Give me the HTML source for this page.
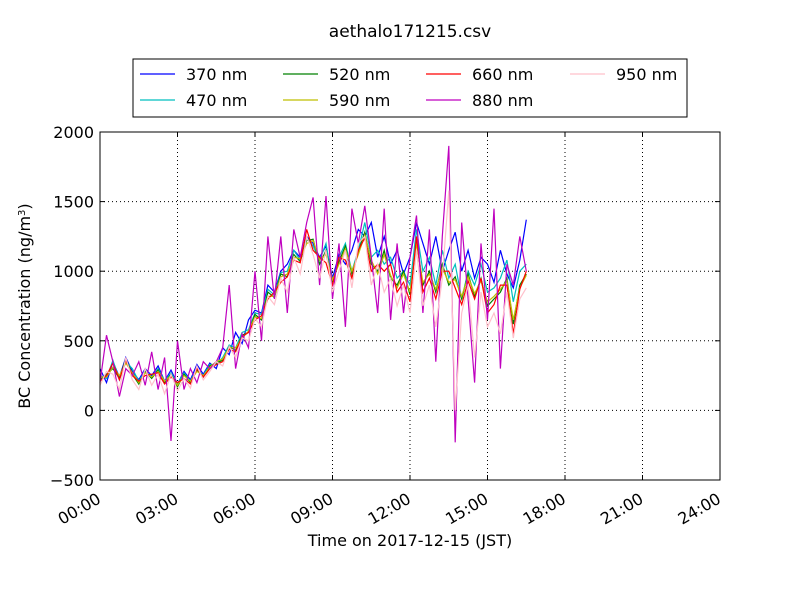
<!DOCTYPE html>
<html><head><meta charset="utf-8"><style>
body{margin:0;background:#fff;}
svg{display:block;font-family:"DejaVu Sans","Liberation Sans",sans-serif;}
</style></head><body>
<svg id="chart" width="800" height="600">
<rect width="800" height="600" fill="#fff"/>
<text x="410" y="37" font-size="17" text-anchor="middle">aethalo171215.csv</text>
<g id="grid"></g>
<g id="series"></g>
<rect x="100" y="132" width="620" height="348" fill="none" stroke="#000" stroke-width="1"/>
<g id="axes"></g>
<text x="410" y="546" font-size="16" text-anchor="middle">Time on 2017-12-15 (JST)</text>
<text transform="translate(30,306) rotate(-90)" font-size="16" text-anchor="middle">BC Concentration (ng/m<tspan baseline-shift="super" font-size="10">3</tspan>)</text>
<g id="legend">
<rect x="133" y="59" width="554" height="58" fill="#fff" stroke="#000" stroke-width="1"/>
</g>
</svg>
<script>
const seriesNames = ["370 nm","470 nm","520 nm","590 nm","660 nm","880 nm","950 nm"];
const seriesColors = ["#0000ff","#00bfbf","#008000","#bfbf00","#ff0000","#bf00bf","#ffc0cb"];
const timeStepHours = 0.25;
const yTicks = [-500,0,500,1000,1500,2000];
const xTickLabels = ["00:00","03:00","06:00","09:00","12:00","15:00","18:00","21:00","24:00"];
const s370 = [300,200,350,240,380,280,220,300,250, 320,210,290,190,280,220,330,260, 340,300,450,400,560,480,650,720, 700,900,850,1000,1050,1150,1100,1250, 1200,1100,1180,950,1120,1050,1150,1300, 1250,1350,1100,1250,1050,1150,980,1100, 1350,1200,1050,1250,1000,1150,1280,1000, 1150,950,1100,1050,920,1150,980,880, 1080,1370];
const s470 = [250,230,360,220,350,300,210,280,240, 300,210,270,190,270,210,300,250, 330,330,380,470,450,560,580,700, 690,870,830,990,1000,1150,1080,1240, 1180,1080,1200,920,1100,1200,1000,1150, 1350,1100,1150,1050,1100,950,1000,900, 1300,1000,1100,900,1150,950,1050,800, 1000,900,1050,850,880,950,1080,780, 1000,1050];
const s520 = [220,260,300,230,370,260,190,280,230, 290,200,260,170,260,200,290,240, 320,340,360,460,430,540,560,690, 650,850,810,980,960,1120,1070,1220, 1230,1050,1150,920,1070,1180,980,1140, 1280,1050,1000,1150,950,900,1000,830, 1220,900,1000,850,1050,900,960,800, 980,820,950,750,800,850,950,620, 900,980];
const s590 = [240,240,310,250,340,270,200,270,240, 280,210,250,180,250,210,280,250, 310,350,370,450,450,520,570,670, 660,820,820,960,980,1100,1090,1200, 1220,1080,1120,940,1050,1160,1000,1120, 1260,1080,980,1120,970,880,980,850, 1200,920,980,870,1020,920,940,820, 960,840,930,780,820,870,930,650, 880,970];
const s660 = [210,250,340,220,360,250,210,250,260, 270,190,240,200,230,190,300,240, 300,330,350,440,420,530,560,650, 680,800,850,920,960,1080,1060,1300, 1150,1100,1060,900,1100,1080,950,1150, 1240,1000,1050,1000,1050,850,920,780, 1250,850,950,800,1000,1000,880,760, 930,800,950,700,760,900,900,550, 870,1000];
const s880 = [200,540,350,100,300,250,350,180,420, 150,380,-220,500,150,300,200,350, 300,350,450,900,300,550,450,1000, 500,1250,800,1250,700,1300,1100,1350, 1530,900,1540,800,1200,600,1450,1200, 1470,1100,700,1450,650,1200,700,1100, 1400,700,1300,350,1250,1900,-230,1350, 800,200,1200,650,1450,300,1050,900, 1250,1000];
const s950 = [180,280,260,150,380,220,150,300,180, 260,120,260,140,230,160,320,220, 280,350,320,460,380,520,500,660, 600,820,760,950,850,1100,980,1250, 1120,950,1150,850,1000,1150,880,1200, 1250,900,1050,850,950,750,900,700, 1150,750,900,600,950,1580,0,700, 900,380,850,600,700,550,850,520, 800,880];
const allSeries = [s370,s470,s520,s590,s660,s880,s950];

const X0=100,X1=720,Y0=480,Y1=132;
const xScale = h => X0 + (h/24)*(X1-X0);
const yScale = v => Y0 - (v+500)/2500*(Y0-Y1);
const NS="http://www.w3.org/2000/svg";
function mk(tag, attrs, parent){const e=document.createElementNS(NS,tag);for(const k in attrs)e.setAttribute(k,attrs[k]);parent.appendChild(e);return e;}

const grid=document.getElementById('grid'), axes=document.getElementById('axes');
yTicks.forEach((v,i)=>{
  const y=yScale(v);
  if(i>0&&i<yTicks.length-1){const g=mk('line',{x1:X0,x2:X1,y1:y,y2:y,stroke:'#000','stroke-dasharray':'1,3','stroke-width':1},grid);
  
  }
  mk('line',{x1:X0,x2:X0+5,y1:y,y2:y,stroke:'#000'},axes);
  mk('line',{x1:X1,x2:X1-5,y1:y,y2:y,stroke:'#000'},axes);
  const t=mk('text',{x:X0-6,y:y+6,'font-size':16,'text-anchor':'end'},axes);
  t.textContent=(v<0?'\u2212'+(-v):String(v));
  
  
});
xTickLabels.forEach((lab,i)=>{
  const x=xScale(i*3);
  if(i>0&&i<xTickLabels.length-1){const g=mk('line',{x1:x,x2:x,y1:Y1,y2:Y0,stroke:'#000','stroke-dasharray':'1,3'},grid);
  
  }
  mk('line',{x1:x,x2:x,y1:Y0,y2:Y0-5,stroke:'#000'},axes);
  mk('line',{x1:x,x2:x,y1:Y1,y2:Y1+5,stroke:'#000'},axes);
  const t=mk('text',{transform:`translate(${x+2},${Y0+22}) rotate(-30)`,'font-size':16,'text-anchor':'end'},axes);
  t.textContent=lab;
  
  
});
const sg=document.getElementById('series');
allSeries.forEach((arr,si)=>{
  const pts=arr.map((v,i)=>xScale(i*timeStepHours).toFixed(1)+','+yScale(v).toFixed(1)).join(' ');
  const p=mk('polyline',{points:pts,fill:'none',stroke:seriesColors[si],'stroke-width':1.2},sg);
  
  
});
const lg=document.getElementById('legend');
const colX=[140,283,426,570], rowY=[74,100];
const order=[[0,0],[1,0],[0,1],[1,1],[0,2],[1,2],[0,3]];
seriesNames.forEach((n,i)=>{
  const [r,c]=order[i];
  const x=colX[c],y=rowY[r];
  mk('line',{x1:x,x2:x+35,y1:y,y2:y,stroke:seriesColors[i],'stroke-width':1.2},lg);
  const t=mk('text',{x:x+46,y:y+6,'font-size':16},lg);
  t.textContent=n;
  
  
});
</script>
</body></html>
